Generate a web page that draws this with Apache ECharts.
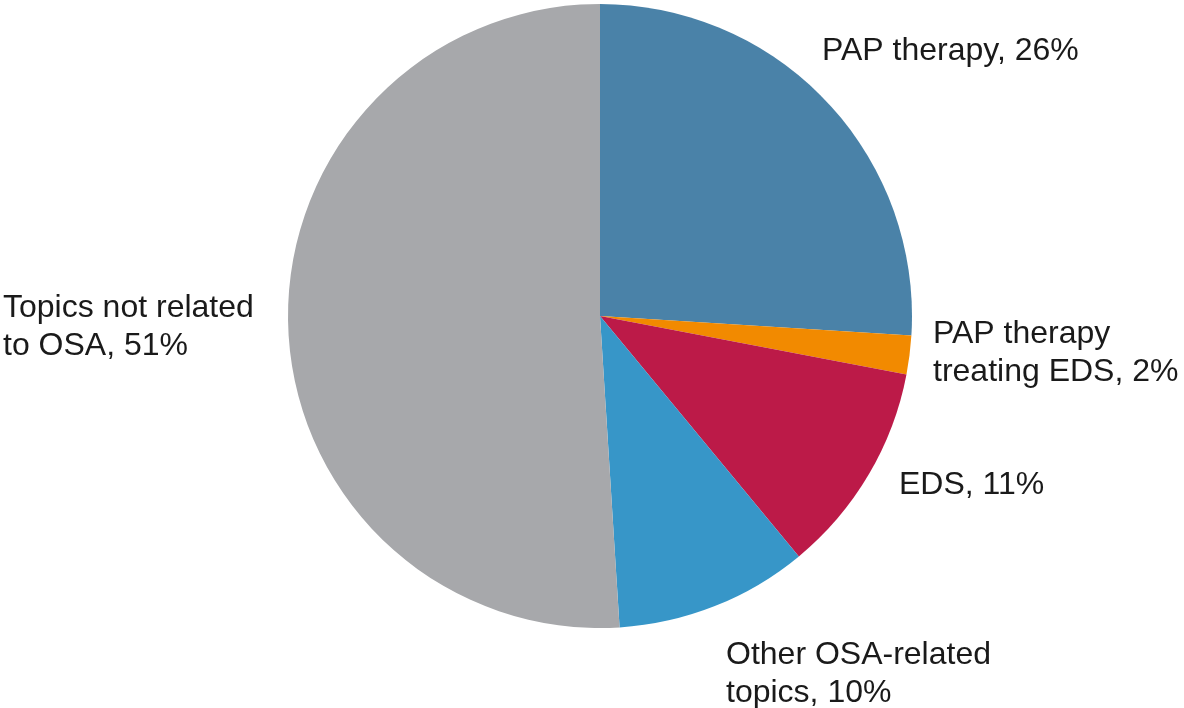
<!DOCTYPE html>
<html>
<head>
    <meta charset="utf-8">
    <title>OSA topics</title>
    <script src="https://cdn.jsdelivr.net/npm/echarts@6/dist/echarts.min.js"></script>
    <style>
        html, body { margin: 0; padding: 0; background: #fff; }
        #chart { width: 1184px; height: 708px; }
    </style>
</head>
<body>
<div id="chart"></div>
<script>
    // slices, clockwise from 12 o'clock
    var names = ['PAP therapy', 'PAP therapy\ntreating EDS', 'EDS', 'Other OSA-related\ntopics', 'Topics not related\nto OSA'];
    var values = [26, 2, 11, 10, 51];
    var colors = ['#4a82a8', '#f28a00', '#bc1a48', '#3796c8', '#a7a8ab'];

    // label anchor (left edge, vertical middle of the text block)
    var labelPos = [[822, 51], [933, 353], [899, 485], [726, 674], [3, 327]];

    var data = [];
    for (var i = 0; i < names.length; i++) {
        data.push({ name: names[i], value: values[i], itemStyle: { color: colors[i] } });
    }

    var myChart = echarts.init(document.getElementById('chart'));
    var option = {
        animation: false,
        series: [{
            type: 'pie',
            center: [600, 316],
            radius: 312,
            startAngle: 90,
            clockwise: true,
            data: data,
            itemStyle: { borderWidth: 0 },
            label: {
                show: true,
                position: 'outside',
                formatter: '{b}, {c}%',
                fontFamily: 'Liberation Sans, Arial, sans-serif',
                fontSize: 32,
                lineHeight: 38,
                color: '#1a1a1a',
                overflow: 'none'
            },
            labelLine: { show: false },
            labelLayout: function (params) {
                var p = labelPos[params.dataIndex];
                return { x: p[0], y: p[1], align: 'left', verticalAlign: 'middle' };
            },
            emphasis: { disabled: true }
        }]
    };
    myChart.setOption(option);
</script>
</body>
</html>
